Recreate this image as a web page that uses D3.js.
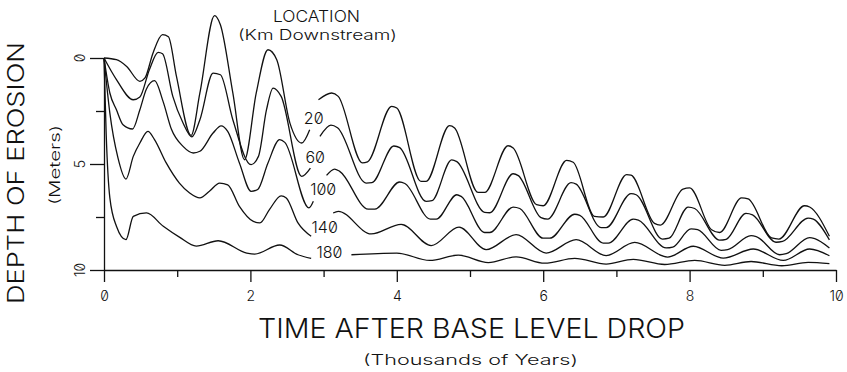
<!DOCTYPE html>
<html lang="en">
<head>
<meta charset="utf-8">
<style>
  body { margin: 0; background: white; }
  svg { background: white; font-family: 'Inter', 'DejaVu Sans', sans-serif; font-weight: 300; font-feature-settings: "zero" 1; }
  .curve { fill: none; stroke: #111; stroke-width: 1.3; stroke-linejoin: round; }
  .axis path, .axis line { stroke: #111; stroke-width: 1.3; }
  .axis text { font-family: 'Inter', 'DejaVu Sans', sans-serif; }
  text { fill: #111; }
</style>
</head>
<body>
<svg width="847" height="372"></svg>
<script src="https://d3js.org/d3.v7.min.js"></script>
<script>
// time (thousands of years), depth of erosion (m); null = break for the label
const km20 = [[0,0],[0.17,0.08],[0.31,0.4],[0.49,1.1],[0.56,0.94],[0.67,-0.24],[0.8,-1.1],[0.88,-1.0],[0.99,0.87],
  [1.19,3.65],[1.31,1.65],[1.51,-2.0],[1.59,-1.57],[1.76,1.65],[1.92,4.8],[2.08,1.65],[2.24,-0.39],[2.36,0.08],
  [2.54,3.07],[2.7,4.01],[2.81,3.38],[2.87,null],[2.93,1.97],[3.11,1.65],[3.2,1.81],[3.53,4.95],[3.6,4.9],
  [3.93,2.28],[4.0,2.36],[4.33,5.82],[4.4,5.82],[4.72,3.19],[4.79,3.3],[5.11,6.34],[5.2,6.34],[5.52,4.14],
  [5.59,4.25],[5.91,6.92],[6.0,6.97],[6.32,4.83],[6.41,4.92],[6.7,7.47],[6.82,7.5],[7.14,5.5],[7.2,5.53],
  [7.52,7.8],[7.6,7.88],[7.91,6.18],[8.0,6.13],[8.3,8.1],[8.41,8.23],[8.71,6.6],[8.8,6.65],[9.12,8.49],
  [9.22,8.54],[9.57,6.97],[9.64,7.03],[9.91,8.41]]
const km60 = [[0,0],[0.17,1.02],[0.4,1.97],[0.49,1.84],[0.62,0.55],[0.74,-0.27],[0.8,-0.2],[0.94,1.81],[1.08,3.07],
  [1.2,3.72],[1.31,2.91],[1.49,0.71],[1.59,0.79],[1.76,2.91],[2.01,5.03],[2.11,4.64],[2.22,2.44],[2.31,1.42],
  [2.42,1.81],[2.7,5.58],[2.82,5.19],[2.88,null],[2.95,3.7],[3.1,3.17],[3.19,3.29],[3.58,5.9],[3.66,5.88],
  [3.96,4.15],[4.04,4.23],[4.4,6.76],[4.48,6.73],[4.75,4.81],[4.82,4.89],[5.2,7.28],[5.27,7.3],[5.59,5.46],
  [5.66,5.55],[5.97,7.53],[6.06,7.6],[6.38,5.88],[6.45,5.95],[6.79,8.0],[6.86,8.0],[7.2,6.4],[7.27,6.45],
  [7.63,8.54],[7.72,8.5],[7.98,7.03],[8.07,7.1],[8.41,8.59],[8.5,8.55],[8.77,7.33],[8.86,7.4],[9.18,8.69],
  [9.27,8.65],[9.62,7.55],[9.69,7.6],[9.91,8.58]]
const km100 = [[0,0],[0.08,1.65],[0.17,2.44],[0.26,3.15],[0.39,3.35],[0.49,2.44],[0.58,1.46],[0.69,1.07],[0.81,2.08],
  [0.92,3.35],[1.08,4.17],[1.22,4.48],[1.31,4.4],[1.49,3.54],[1.6,3.2],[1.69,3.46],[1.85,4.95],[2.01,6.29],
  [2.1,6.2],[2.24,4.95],[2.4,3.85],[2.47,3.98],[2.8,7.07],[2.86,6.76],[2.95,null],[3.04,5.54],[3.15,5.24],
  [3.22,5.35],[3.61,7.13],[3.7,7.13],[4.04,5.85],[4.11,5.92],[4.46,7.6],[4.54,7.6],[4.82,6.45],[4.88,6.53],
  [5.2,8.23],[5.27,8.23],[5.59,7.03],[5.68,7.1],[6.0,8.5],[6.09,8.5],[6.43,7.37],[6.5,7.42],[6.82,8.73],
  [6.89,8.73],[7.23,7.6],[7.3,7.65],[7.68,8.96],[7.77,8.92],[8.02,8.06],[8.11,8.1],[8.43,9.07],[8.52,9.04],
  [8.84,8.38],[8.91,8.42],[9.23,9.28],[9.32,9.23],[9.64,8.47],[9.71,8.52],[9.91,8.96]]
const km140 = [[0,0],[0.08,2.6],[0.19,4.7],[0.3,5.71],[0.4,4.64],[0.49,4.01],[0.6,3.46],[0.69,3.85],[0.85,4.95],
  [1.03,5.9],[1.17,6.37],[1.31,6.6],[1.44,6.29],[1.58,5.9],[1.69,5.98],[1.85,7.0],[2.04,7.71],[2.13,7.78],
  [2.26,7.15],[2.42,6.5],[2.49,6.6],[2.65,7.78],[2.83,8.41],[2.98,null],[3.13,7.31],[3.2,7.23],[3.65,8.3],
  [4.06,7.85],[4.47,8.85],[4.85,7.98],[5.22,9.04],[5.63,8.33],[6.04,9.2],[6.45,8.57],[6.86,9.32],[7.25,8.7],
  [7.7,9.39],[8.05,8.88],[8.46,9.44],[8.87,9.01],[9.28,9.55],[9.64,9.01],[9.91,9.33]]
const km180 = [[0,0],[0.03,3.6],[0.08,6.6],[0.17,7.94],[0.3,8.57],[0.4,7.47],[0.58,7.31],[0.81,7.94],[1.03,8.45],
  [1.26,8.87],[1.56,8.62],[1.95,9.2],[2.06,9.25],[2.4,8.82],[2.65,9.28],[2.83,9.45],[3.1,null],[3.38,9.28],
  [4.0,9.2],[4.45,9.55],[4.84,9.3],[5.25,9.65],[5.63,9.38],[6.02,9.68],[6.43,9.45],[6.86,9.72],[7.23,9.5],
  [7.66,9.74],[8.07,9.55],[8.48,9.78],[8.84,9.6],[9.26,9.8],[9.62,9.64],[9.91,9.7]]

const locations = ["20", "60", "100", "140", "180"]
const labelAt = [[2.865, 2.86], [2.885, 4.7], [2.995, 6.17], [3.015, 8.0], [3.08, 9.14]]
const xTicks = [0, 2, 4, 6, 8, 10]
const xMinor = [1, 3, 5, 7, 9]
const yTicks = [0, 5, 10]
const yMinor = [2.5, 7.5]

const series = [km20, km60, km100, km140, km180]

const svg = d3.select("svg")
const x = d3.scaleLinear().domain([0, 10]).range([104, 836])
const y = d3.scaleLinear().domain([0, 10]).range([58, 270])

const line = d3.line()
  .defined(d => d[1] !== null)
  .x(d => x(d[0]))
  .y(d => y(d[1]))
  .curve(d3.curveMonotoneX)

svg.append("g").selectAll("path")
  .data(series)
  .join("path")
  .attr("class", "curve")
  .attr("d", line)

// axes
svg.append("g")
  .attr("class", "axis x")
  .attr("transform", "translate(0," + y(10) + ")")
  .call(d3.axisBottom(x).tickValues(xTicks).tickSize(12).tickSizeOuter(0).tickPadding(9))
  .selectAll("text").attr("font-size", 14)

svg.append("g")
  .attr("class", "axis x minor")
  .attr("transform", "translate(0," + y(10) + ")")
  .call(d3.axisBottom(x).tickValues(xMinor).tickSize(7).tickFormat(""))
  .select(".domain").remove()

svg.append("g")
  .attr("class", "axis y")
  .attr("transform", "translate(" + x(0) + ",0)")
  .call(d3.axisLeft(y).tickValues(yTicks).tickSize(14).tickSizeOuter(0).tickFormat(""))

svg.append("g")
  .attr("class", "axis y minor")
  .attr("transform", "translate(" + x(0) + ",0)")
  .call(d3.axisLeft(y).tickValues(yMinor).tickSize(8).tickFormat(""))
  .select(".domain").remove()

// rotated y tick labels
svg.append("g").selectAll("text")
  .data(yTicks)
  .join("text")
  .attr("transform", d => "translate(85," + y(d) + ") rotate(-90)")
  .attr("text-anchor", "middle")
  .attr("font-size", 14)
  .text(d => d)

// curve labels
svg.append("g").selectAll("text")
  .data(locations)
  .join("text")
  .attr("x", (d, i) => x(labelAt[i][0]))
  .attr("y", (d, i) => y(labelAt[i][1]))
  .attr("dy", "0.36em")
  .attr("text-anchor", "middle")
  .attr("font-size", 16)
  .text(d => d)

svg.append("text")
  .attr("x", 273).attr("y", 21.5)
  .attr("font-size", 16)
  .attr("textLength", 87).attr("lengthAdjust", "spacingAndGlyphs")
  .text("LOCATION")

svg.append("text")
  .attr("x", 238).attr("y", 40)
  .attr("font-size", 14)
  .attr("textLength", 159).attr("lengthAdjust", "spacingAndGlyphs")
  .text("(Km Downstream)")

svg.append("text")
  .attr("x", 258).attr("y", 338)
  .attr("font-size", 27)
  .attr("textLength", 427).attr("lengthAdjust", "spacingAndGlyphs")
  .text("TIME AFTER BASE LEVEL DROP")

svg.append("text")
  .attr("x", 363).attr("y", 365)
  .attr("font-size", 14)
  .attr("textLength", 215).attr("lengthAdjust", "spacingAndGlyphs")
  .text("(Thousands of Years)")

svg.append("text")
  .attr("transform", "translate(24,304) rotate(-90)")
  .attr("font-size", 23)
  .attr("textLength", 262).attr("lengthAdjust", "spacingAndGlyphs")
  .text("DEPTH OF EROSION")

svg.append("text")
  .attr("transform", "translate(60,205) rotate(-90)")
  .attr("font-size", 14)
  .attr("textLength", 80).attr("lengthAdjust", "spacingAndGlyphs")
  .text("(Meters)")
</script>
</body>
</html>
